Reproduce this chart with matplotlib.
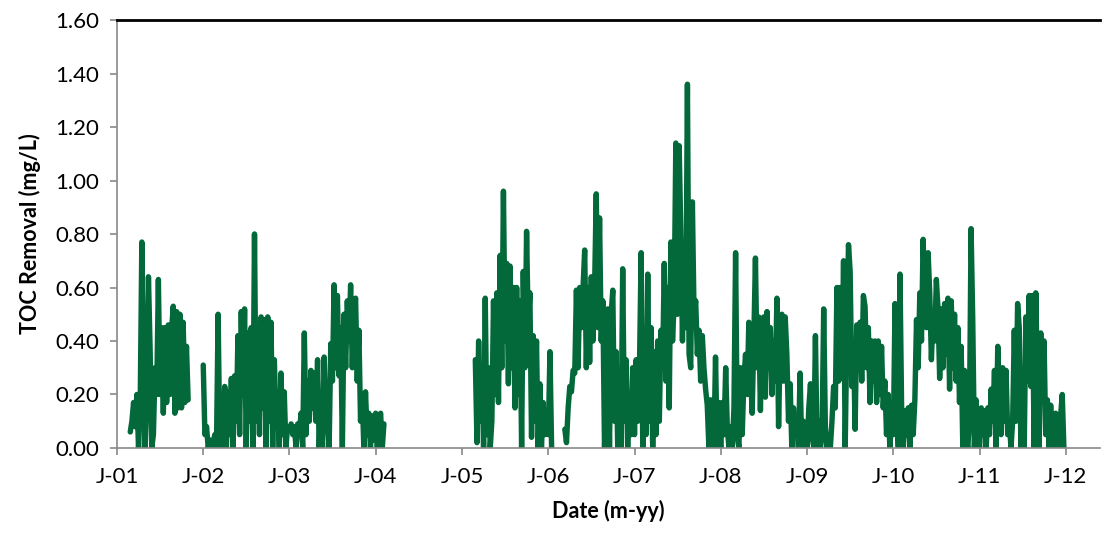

import matplotlib

matplotlib.use("Agg")
import matplotlib.pyplot as plt
import numpy as np
import pandas as pd

nan = np.nan

# weekly TOC removal (mg/L), week 0 = 1 Jan of each year; nan = no data
toc_2001 = [nan, nan, nan, nan, nan, nan, nan, nan,
            0.06, 0.10, 0.17, 0.08, 0.20, 0.00, 0.15, 0.77, 0.25, 0.00, 0.22, 0.64,
            0.37, 0.00, 0.05, 0.30, 0.20, 0.63, 0.20, 0.45, 0.13, 0.45, 0.17, 0.46,
            0.20, 0.44, 0.53, 0.13, 0.51, 0.15, 0.50, 0.15, 0.47, 0.17, 0.38, 0.18]
toc_2002 = [0.31, 0.05, 0.08, 0.00, 0.03, 0.00, 0.02, 0.05, 0.00, 0.50, 0.02, 0.00,
            0.05, 0.23, 0.00, 0.21, 0.05, 0.26, 0.00, 0.27, 0.10, 0.42, 0.05, 0.51,
            0.20, 0.52, 0.00, 0.43, 0.10, 0.45, 0.00, 0.80, 0.10, 0.45, 0.05, 0.49,
            0.15, 0.48, 0.00, 0.49, 0.10, 0.47, 0.00, 0.33, 0.10, 0.16, 0.00, 0.28,
            0.05, 0.21, 0.00, 0.08]
toc_2003 = [nan, 0.09, 0.05, 0.08, 0.00, 0.09, 0.05, 0.13, 0.00, 0.43, 0.05, 0.25,
            0.10, 0.29, 0.15, 0.28, 0.10, 0.33, 0.00, 0.20, 0.00, 0.34, 0.10, 0.10,
            0.00, 0.39, 0.25, 0.61, 0.30, 0.57, 0.27, 0.45, 0.00, 0.50, 0.30, 0.55,
            0.40, 0.61, 0.30, 0.50, 0.56, 0.25, 0.44, 0.10, 0.20, 0.00, 0.21, 0.05,
            0.13, 0.00, 0.12, 0.03]
toc_2004 = [0.13, 0.00, 0.10, 0.13, 0.00, 0.09]
toc_2005 = [nan, nan, nan, nan, nan, nan, nan, nan,
            0.33, 0.02, 0.40, 0.10, 0.30, 0.00, 0.56, 0.05, 0.30, 0.00, 0.10, 0.55,
            0.20, 0.58, 0.17, 0.72, 0.30, 0.96, 0.40, 0.69, 0.24, 0.68, 0.30, 0.60,
            0.15, 0.60, 0.20, 0.55, 0.00, 0.66, 0.30, 0.81, 0.45, 0.58, 0.04, 0.42,
            0.10, 0.40, 0.00, 0.24, 0.00, 0.17, 0.05, 0.10]
toc_2006 = [0.05, 0.36, 0.00, nan, nan, nan, nan, nan, nan, nan,
            0.07, 0.02, 0.15, 0.23, 0.21, 0.29, 0.28, 0.59, 0.30, 0.60, 0.45, 0.60,
            0.74, 0.30, 0.60, 0.32, 0.64, 0.40, 0.60, 0.95, 0.45, 0.86, 0.40, 0.55,
            0.00, 0.20, 0.52, 0.00, 0.50, 0.59, 0.10, 0.36, 0.00, 0.20, 0.00, 0.67,
            0.10, 0.33, 0.00, 0.20, 0.05, 0.30]
toc_2007 = [0.05, 0.33, 0.10, 0.30, 0.73, 0.00, 0.20, 0.05, 0.65, 0.10, 0.45, 0.00,
            0.36, 0.05, 0.40, 0.10, 0.44, 0.30, 0.69, 0.25, 0.60, 0.15, 0.77, 0.40,
            0.55, 1.14, 0.50, 1.13, 0.80, 0.40, 0.77, 0.45, 1.36, 0.35, 0.30, 0.92,
            0.50, 0.55, 0.35, 0.44, 0.25, 0.42, 0.30, 0.22, 0.16, 0.00, 0.18, 0.05,
            0.00, 0.34, 0.00, 0.17]
toc_2008 = [0.00, 0.17, 0.05, 0.30, 0.07, 0.00, 0.08, 0.00, 0.15, 0.73, 0.05, 0.00,
            0.30, 0.05, 0.25, 0.35, 0.20, 0.47, 0.30, 0.13, 0.40, 0.71, 0.30, 0.49,
            0.14, 0.45, 0.49, 0.19, 0.51, 0.30, 0.45, 0.20, 0.40, 0.25, 0.56, 0.08,
            0.40, 0.50, 0.25, 0.49, 0.35, 0.10, 0.24, 0.00, 0.15, 0.05, 0.10, 0.00,
            0.28, 0.00, 0.10, 0.05]
toc_2009 = [0.00, 0.15, 0.24, 0.05, 0.00, 0.42, 0.00, 0.10, 0.00, 0.05, 0.52, 0.08,
            0.00, 0.05, 0.00, 0.10, 0.23, 0.15, 0.60, 0.25, 0.60, 0.26, 0.70, 0.00,
            0.43, 0.76, 0.66, 0.23, 0.40, 0.07, 0.46, 0.30, 0.47, 0.25, 0.57, 0.53,
            0.30, 0.45, 0.17, 0.40, 0.25, 0.40, 0.17, 0.40, 0.20, 0.38, 0.15, 0.25,
            0.05, 0.20, 0.00, 0.10]
toc_2010 = [0.05, 0.54, 0.14, 0.00, 0.65, 0.14, 0.00, 0.14, 0.05, 0.15, 0.00, 0.16,
            0.05, 0.18, 0.48, 0.30, 0.58, 0.40, 0.78, 0.55, 0.45, 0.73, 0.58, 0.33,
            0.50, 0.40, 0.63, 0.52, 0.26, 0.52, 0.30, 0.54, 0.35, 0.56, 0.22, 0.55,
            0.30, 0.50, 0.25, 0.45, 0.17, 0.38, 0.00, 0.29, 0.05, 0.00, 0.10, 0.82,
            0.48, 0.00, 0.18, 0.05]
toc_2011 = [0.00, 0.15, 0.05, 0.14, 0.00, 0.15, 0.05, 0.22, 0.10, 0.29, 0.00, 0.38,
            0.20, 0.05, 0.30, 0.10, 0.29, 0.05, 0.10, 0.00, 0.10, 0.44, 0.10, 0.54,
            0.45, 0.00, 0.18, 0.00, 0.49, 0.25, 0.57, 0.23, 0.57, 0.00, 0.58, 0.23,
            0.00, 0.43, 0.20, 0.40, 0.05, 0.18, 0.00, 0.16, 0.00, 0.10, 0.13, 0.00,
            0.00, 0.12, 0.20, 0.00]

years = [2001, 2002, 2003, 2004, 2005, 2006, 2007, 2008, 2009, 2010, 2011]
yearly = [toc_2001, toc_2002, toc_2003, toc_2004, toc_2005, toc_2006,
          toc_2007, toc_2008, toc_2009, toc_2010, toc_2011]

tick_years = list(range(2001, 2013))
tick_labels = ["J-01", "J-02", "J-03", "J-04", "J-05", "J-06",
               "J-07", "J-08", "J-09", "J-10", "J-11", "J-12"]
y_ticks = [0.0, 0.2, 0.4, 0.6, 0.8, 1.0, 1.2, 1.4, 1.6]

parts = []
for yr, vals in zip(years, yearly):
    vals = list(vals) + [nan] * (52 - len(vals))
    dates = pd.date_range(f"{yr}-01-01", periods=52, freq="7D")
    parts.append(pd.Series(vals, index=dates))
toc = pd.concat(parts)

plt.rcParams["font.family"] = ["Lato", "DejaVu Sans"]

fig = plt.figure(figsize=(11.02, 5.38), dpi=100)
ax = fig.add_axes([0.1062, 0.1673, 0.8918, 0.7955])

ax.plot(toc.index, toc.values, color="#03693A", lw=3.9,
        solid_joinstyle="round", solid_capstyle="round")

ax.set_xlim(pd.Timestamp("2001-01-01"), pd.Timestamp("2012-05-24"))
ax.set_ylim(0, 1.6)
ax.set_xticks([pd.Timestamp(f"{y}-01-01") for y in tick_years])
ax.set_xticklabels(tick_labels)
ax.set_yticks(y_ticks)
ax.set_yticklabels([f"{v:.2f}" for v in y_ticks])

for side in ["left", "bottom"]:
    ax.spines[side].set_color("#898989")
    ax.spines[side].set_linewidth(1.2)
ax.spines["right"].set_visible(False)
ax.spines["top"].set_color("black")
ax.spines["top"].set_linewidth(2)

ax.tick_params(axis="both", colors="#898989", labelcolor="black",
               labelsize=16, length=5, width=1.2)
ax.tick_params(axis="x", pad=9)
ax.tick_params(axis="y", pad=8)

ax.set_ylabel("TOC Removal (mg/L)", fontsize=15.5, fontweight="bold", labelpad=10)
ax.set_xlabel("Date (m-yy)", fontsize=15.5, fontweight="bold", labelpad=9)

fig.savefig("out.png", dpi=100)
plt.close(fig)
